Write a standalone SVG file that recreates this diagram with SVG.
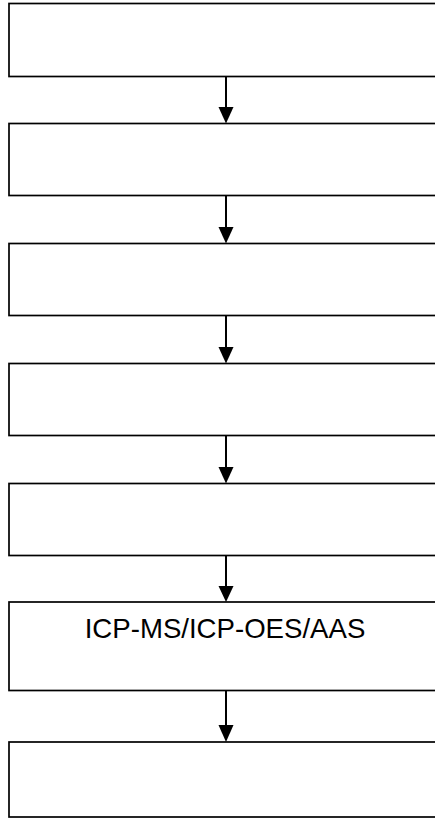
<svg xmlns="http://www.w3.org/2000/svg" width="435" height="818" viewBox="0 0 435 818">
<style>
.box{fill:#fff;stroke:#000;stroke-width:1.7}
.line{stroke:#000;stroke-width:2;fill:none}
.head{fill:#000}
.lbl{font-family:"Liberation Sans",Arial,sans-serif;font-size:27.6px;fill:#000;text-anchor:middle}
</style>
<rect width="435" height="818" fill="#fff"/>
<g id="node1"><rect class="box" x="9" y="3.5" width="440" height="73"/></g>
<g id="node2"><rect class="box" x="9" y="123.5" width="440" height="72"/></g>
<g id="node3"><rect class="box" x="9" y="243.5" width="440" height="72"/></g>
<g id="node4"><rect class="box" x="9" y="363.5" width="440" height="72"/></g>
<g id="node5"><rect class="box" x="9" y="483.5" width="440" height="72"/></g>
<g id="node6"><rect class="box" x="9" y="602" width="440" height="88.5"/><text class="lbl" x="225" y="638">ICP-MS/ICP-OES/AAS</text></g>
<g id="node7"><rect class="box" x="9" y="742" width="440" height="75"/></g>
<g id="connectors">
<line class="line" x1="226" y1="76.5" x2="226" y2="108"/><polygon class="head" points="218.5,107 233.5,107 226,123.5"/>
<line class="line" x1="226" y1="195.5" x2="226" y2="228"/><polygon class="head" points="218.5,227 233.5,227 226,243.5"/>
<line class="line" x1="226" y1="315.5" x2="226" y2="348"/><polygon class="head" points="218.5,347 233.5,347 226,363.5"/>
<line class="line" x1="226" y1="435.5" x2="226" y2="468"/><polygon class="head" points="218.5,467 233.5,467 226,483.5"/>
<line class="line" x1="226" y1="555.5" x2="226" y2="587"/><polygon class="head" points="218.5,586 233.5,586 226,602"/>
<line class="line" x1="226" y1="690.5" x2="226" y2="726"/><polygon class="head" points="218.5,725 233.5,725 226,742"/>
</g>
</svg>
